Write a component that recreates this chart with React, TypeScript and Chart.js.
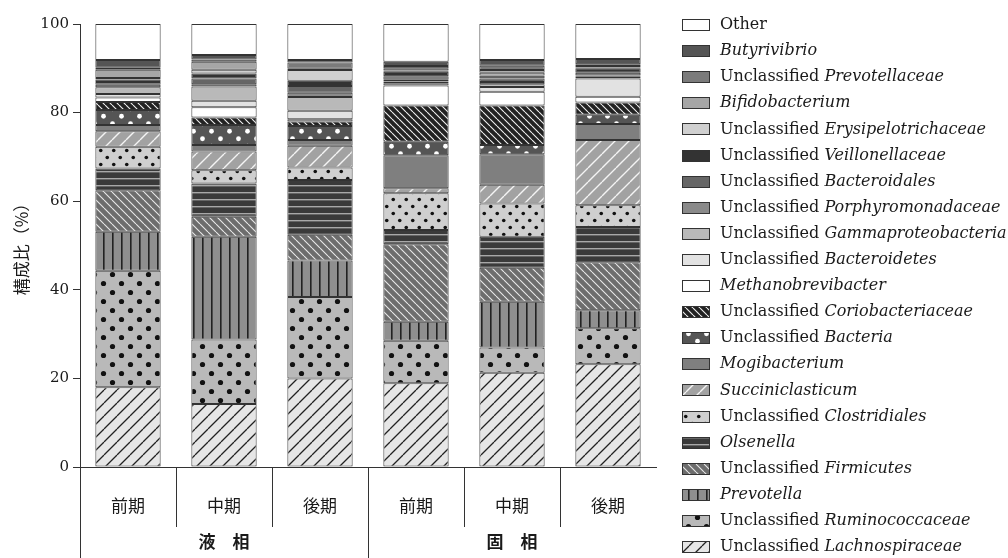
import React, { useEffect, useRef } from "react";
import { Chart, registerables } from "chart.js";

Chart.register(...registerables);

// ---- data ----
const categories = ["前期", "中期", "後期", "前期", "中期", "後期"];
const groupLabels = ["液　相", "固　相"];
const yAxisTitle = "構成比（%）";

const lachnospiraceae = [18.0, 14.2, 20.0, 18.9, 21.3, 23.2];
const ruminococcaceae = [26.3, 14.6, 18.4, 9.6, 5.7, 8.1];
const prevotella = [8.8, 23.2, 8.2, 4.3, 10.3, 4.1];
const firmicutes = [9.4, 4.5, 5.8, 17.5, 7.7, 10.8];
const olsenella = [4.9, 7.5, 12.4, 3.2, 7.0, 8.0];
const clostridiales = [4.9, 3.0, 2.8, 8.3, 7.5, 4.9];
const succiniclasticum = [3.5, 4.2, 4.9, 1.1, 4.2, 14.7];
const mogibacterium = [1.4, 1.5, 1.3, 7.5, 6.9, 3.6];
const bacteria = [3.4, 4.5, 3.2, 3.0, 2.1, 2.1];
const coriobacteriaceae = [1.8, 1.7, 1.0, 8.2, 8.9, 2.8];
const methanobrevibacter = [1.0, 2.3, 0.5, 4.5, 3.1, 1.3];
const bacteroidetes = [0.8, 1.5, 1.9, 0.5, 1.1, 4.1];
const gammaproteobacteria = [1.5, 3.2, 3.1, 0.4, 0.6, 0.4];
const porphyromonadaceae = [0.6, 0.5, 1.0, 0.4, 0.5, 0.3];
const bacteroidales = [0.6, 1.3, 1.5, 0.8, 0.8, 0.6];
const veillonellaceae = [0.6, 1.1, 1.2, 1.0, 0.7, 1.0];
const erysipelotrichaceae = [0.3, 0.9, 2.4, 0.3, 0.6, 0.2];
const bifidobacterium = [1.9, 1.8, 0.3, 0.5, 0.6, 0.3];
const prevotellaceae = [0.4, 0.5, 1.4, 0.5, 1.0, 0.4];
const butyrivibrio = [1.8, 1.0, 0.6, 1.0, 1.3, 1.2];
const other = [8.1, 7.0, 8.1, 8.5, 8.1, 7.9];

// [plain prefix, italic part] in stacking order (bottom -> top)
const seriesNames: [string, string][] = [
  ["Unclassified ", "Lachnospiraceae"],
  ["Unclassified ", "Ruminococcaceae"],
  ["", "Prevotella"],
  ["Unclassified ", "Firmicutes"],
  ["", "Olsenella"],
  ["Unclassified ", "Clostridiales"],
  ["", "Succiniclasticum"],
  ["", "Mogibacterium"],
  ["Unclassified ", "Bacteria"],
  ["Unclassified ", "Coriobacteriaceae"],
  ["", "Methanobrevibacter"],
  ["Unclassified ", "Bacteroidetes"],
  ["Unclassified ", "Gammaproteobacteria"],
  ["Unclassified ", "Porphyromonadaceae"],
  ["Unclassified ", "Bacteroidales"],
  ["Unclassified ", "Veillonellaceae"],
  ["Unclassified ", "Erysipelotrichaceae"],
  ["", "Bifidobacterium"],
  ["Unclassified ", "Prevotellaceae"],
  ["", "Butyrivibrio"],
  ["Other", ""],
];
const seriesValues = [
  lachnospiraceae, ruminococcaceae, prevotella, firmicutes, olsenella,
  clostridiales, succiniclasticum, mogibacterium, bacteria, coriobacteriaceae,
  methanobrevibacter, bacteroidetes, gammaproteobacteria, porphyromonadaceae,
  bacteroidales, veillonellaceae, erysipelotrichaceae, bifidobacterium,
  prevotellaceae, butyrivibrio, other,
];

// ---- fills ----
type Fill = string | CanvasPattern;

function tile(ctx: CanvasRenderingContext2D, w: number, h: number, bg: string,
  draw: (c: CanvasRenderingContext2D, w: number, h: number) => void): Fill {
  const cv = document.createElement("canvas");
  cv.width = w; cv.height = h;
  const c = cv.getContext("2d")!;
  c.fillStyle = bg; c.fillRect(0, 0, w, h);
  draw(c, w, h);
  return ctx.createPattern(cv, "repeat") || bg;
}
function diag(dir: 1 | -1, color: string, lw: number) {
  return (c: CanvasRenderingContext2D, w: number, h: number) => {
    c.strokeStyle = color; c.lineWidth = lw; c.beginPath();
    for (let k = -1; k <= 1; k++) {
      if (dir === 1) { c.moveTo(k * w, h); c.lineTo(k * w + w, 0); }
      else { c.moveTo(k * w, 0); c.lineTo(k * w + w, h); }
    }
    c.stroke();
  };
}
function dots(color: string, r: number) {
  return (c: CanvasRenderingContext2D, w: number, h: number) => {
    c.fillStyle = color;
    for (const [x, y] of [[w / 4, h / 4], [3 * w / 4, 3 * h / 4]]) {
      c.beginPath(); c.arc(x, y, r, 0, Math.PI * 2); c.fill();
    }
  };
}

function makeFills(ctx: CanvasRenderingContext2D): Fill[] {
  return [
    tile(ctx, 13, 13, "#e6e6e6", diag(1, "#222", 1.3)),
    tile(ctx, 18, 18, "#b9b9b9", dots("#111", 2.6)),
    tile(ctx, 9, 4, "#8f8f8f", (c) => { c.fillStyle = "#222"; c.fillRect(4, 0, 1.6, 4); }),
    tile(ctx, 8, 8, "#6d6d6d", diag(-1, "#e8e8e8", 1.1)),
    tile(ctx, 4, 7, "#3a3a3a", (c) => { c.fillStyle = "#a8a8a8"; c.fillRect(0, 3, 4, 1.4); }),
    tile(ctx, 13, 14, "#cfcfcf", dots("#111", 1.8)),
    tile(ctx, 14, 14, "#a2a2a2", diag(1, "#f4f4f4", 1.4)),
    "#7f7f7f",
    tile(ctx, 18, 15, "#555555", dots("#ffffff", 2.4)),
    tile(ctx, 7, 7, "#222222", diag(-1, "#f0f0f0", 1.1)),
    "#ffffff",
    "#e2e2e2",
    "#b9b9b9",
    "#8a8a8a",
    "#666666",
    "#333333",
    "#d0d0d0",
    "#a6a6a6",
    "#7b7b7b",
    "#555555",
    "#ffffff",
  ];
}

const SERIF = "'DejaVu Serif', 'Liberation Serif', serif";
const CJK = "'Noto Sans CJK JP', sans-serif";

export default function App() {
  const ref = useRef<HTMLCanvasElement>(null);

  useEffect(() => {
    document.body.style.margin = "0";
    document.body.style.overflow = "hidden";
    const canvas = ref.current!;
    const ctx = canvas.getContext("2d")!;
    const fills = makeFills(ctx);

    const decor = {
      id: "decor",
      afterDraw(chart: any) {
        const c = chart.ctx as CanvasRenderingContext2D;
        const area = chart.chartArea;
        const xs = chart.scales.x;
        c.save();
        c.strokeStyle = "#333"; c.lineWidth = 1;
        // y axis extension below the x axis
        const lx = Math.round(area.left) + 0.5;
        c.beginPath(); c.moveTo(lx, area.bottom); c.lineTo(lx, 558); c.stroke();
        // dividers
        for (let i = 0; i < categories.length - 1; i++) {
          const bx = Math.round((xs.getPixelForValue(i) + xs.getPixelForValue(i + 1)) / 2) + 0.5;
          const end = i === 2 ? 558 : 527;
          c.beginPath(); c.moveTo(bx, area.bottom); c.lineTo(bx, end); c.stroke();
        }
        // category labels
        c.fillStyle = "#1a1a1a";
        c.textAlign = "center"; c.textBaseline = "middle";
        c.font = `17px ${CJK}`;
        categories.forEach((t, i) => c.fillText(t, xs.getPixelForValue(i), 506));
        c.font = `bold 17px ${CJK}`;
        groupLabels.forEach((t, g) => {
          const cx = (xs.getPixelForValue(g * 3) + xs.getPixelForValue(g * 3 + 2)) / 2;
          c.fillText(t, cx, 542);
        });
        // y title
        c.save();
        c.translate(22, 245); c.rotate(-Math.PI / 2);
        c.font = `17px ${CJK}`;
        c.fillText(yAxisTitle, 0, 0);
        c.restore();
        // legend
        c.textAlign = "left";
        const n = seriesNames.length;
        for (let k = 0; k < n; k++) {
          const si = n - 1 - k;
          const y = 25 + k * 26.1;
          c.fillStyle = fills[si] as any;
          c.fillRect(682, Math.round(y - 6), 28, 12);
          c.strokeStyle = "#333";
          c.strokeRect(682.5, Math.round(y - 6) + 0.5, 27, 11);
          const [plain, ital] = seriesNames[si];
          c.fillStyle = "#1a1a1a";
          let tx = 720;
          c.font = `16px ${SERIF}`;
          if (plain) { c.fillText(plain, tx, y); tx += c.measureText(plain).width; }
          c.font = `italic 16px ${SERIF}`;
          if (ital) c.fillText(ital, tx, y);
        }
        c.restore();
      },
    };

    const chart = new Chart(canvas, {
      type: "bar",
      data: {
        labels: categories,
        datasets: seriesValues.map((vals, i) => ({
          label: seriesNames[i].join(""),
          data: vals,
          backgroundColor: fills[i] as any,
          borderColor: "#333",
          borderWidth: 1,
          borderSkipped: false,
          barPercentage: 0.68,
          categoryPercentage: 1.0,
        })),
      },
      options: {
        responsive: false,
        animation: false,
        events: [],
        layout: { padding: { top: 24, right: 352, left: 0, bottom: 0 } },
        plugins: { legend: { display: false }, tooltip: { enabled: false } },
        scales: {
          x: {
            stacked: true,
            grid: { display: false },
            border: { display: true, color: "#333", width: 1 },
            ticks: { display: false },
            afterFit: (s: any) => { s.height = 91; },
          },
          y: {
            stacked: true,
            min: 0,
            max: 100,
            ticks: { stepSize: 20, color: "#1a1a1a", padding: 4, font: { family: SERIF, size: 15 } },
            grid: { drawOnChartArea: false, drawTicks: true, tickLength: 7, color: "#333" },
            border: { display: true, color: "#333", width: 1 },
            afterFit: (s: any) => { s.width = 80; },
          },
        },
      },
      plugins: [decor],
    });
    return () => chart.destroy();
  }, []);

  return (
    <div style={{ width: 1008, height: 558, position: "relative" }}>
      <canvas ref={ref} width={1008} height={558} style={{ display: "block" }} />
    </div>
  );
}
